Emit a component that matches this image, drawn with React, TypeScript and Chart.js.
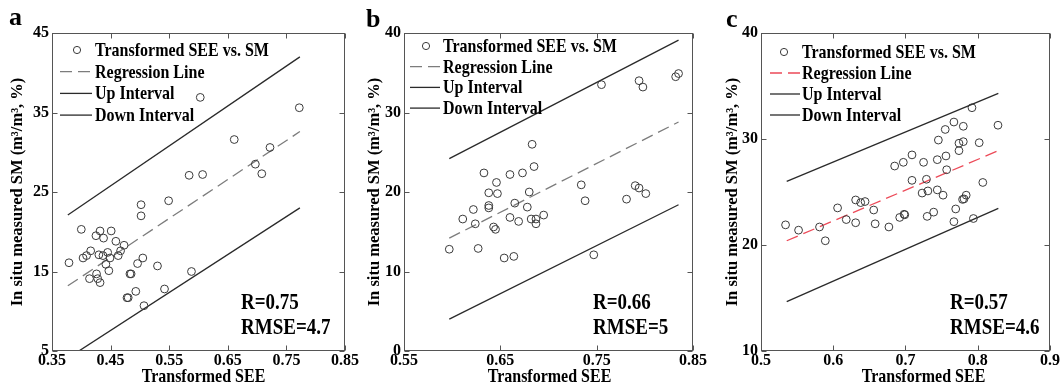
import React, { useEffect, useRef } from 'react';
import { Chart, registerables } from 'chart.js';

Chart.register(...registerables);

const FONT = '"Liberation Serif", "Times New Roman", serif';

// ---------- shared text ----------
const legendLabels = ['Transformed SEE vs. SM', 'Regression Line', 'Up Interval', 'Down Interval'];
const xTitle = 'Transformed SEE';
const yTitle = 'In situ measured SM (m\u00B3/m\u00B3, %)';

// ---------- panel a ----------
const aSeeX = [0.379, 0.400, 0.403, 0.409, 0.416, 0.414, 0.426, 0.428, 0.432, 0.425, 0.432, 0.430, 0.438, 0.437, 0.442, 0.445, 0.447, 0.451, 0.449, 0.459, 0.463, 0.467, 0.473, 0.478, 0.480, 0.483, 0.485, 0.493, 0.496, 0.502, 0.502, 0.505, 0.507, 0.530, 0.542, 0.549, 0.584, 0.588, 0.603, 0.607, 0.661, 0.697, 0.708, 0.722, 0.772];
const aSmY = [16.1, 20.3, 16.7, 17.0, 17.6, 14.1, 14.7, 14.1, 13.6, 19.5, 20.1, 17.1, 19.2, 17.0, 15.9, 17.4, 15.1, 20.1, 16.7, 18.8, 17.0, 17.6, 18.3, 11.7, 11.7, 14.7, 14.7, 12.5, 16.0, 23.4, 22.0, 16.7, 10.7, 15.7, 12.8, 23.9, 27.1, 15.0, 36.9, 27.2, 31.6, 28.5, 27.3, 30.6, 35.6];
const aLineX = [0.377, 0.773];
const aRegY = [13.2, 32.6];
const aUpY = [22.1, 42.0];
const aDownY = [4.1, 23.0];
const aXTicks = [0.35, 0.45, 0.55, 0.65, 0.75, 0.85];
const aXTickLabels = ['0.35', '0.45', '0.55', '0.65', '0.75', '0.85'];
const aYTicks = [5, 15, 25, 35, 45];
const aStats = ['R=0.75', 'RMSE=4.7'];

// ---------- panel b ----------
const bSeeX = [0.597, 0.611, 0.622, 0.624, 0.627, 0.633, 0.638, 0.638, 0.638, 0.646, 0.647, 0.643, 0.645, 0.654, 0.660, 0.660, 0.664, 0.665, 0.669, 0.673, 0.678, 0.680, 0.683, 0.682, 0.685, 0.687, 0.687, 0.695, 0.734, 0.738, 0.747, 0.755, 0.781, 0.790, 0.794, 0.801, 0.794, 0.798, 0.832, 0.835];
const bSmY = [12.8, 16.6, 17.8, 16.0, 12.9, 22.4, 19.9, 18.3, 18.0, 21.2, 19.8, 15.6, 15.3, 11.7, 22.2, 16.8, 11.9, 18.6, 16.3, 22.4, 18.1, 20.0, 26.0, 16.6, 23.2, 16.6, 16.0, 17.1, 20.9, 18.9, 12.1, 33.5, 19.1, 20.8, 20.5, 19.8, 34.0, 33.2, 34.5, 34.9];
const bLineX = [0.597, 0.835];
const bRegY = [14.2, 28.8];
const bUpY = [24.2, 39.1];
const bDownY = [4.0, 18.4];
const bXTicks = [0.55, 0.65, 0.75, 0.85];
const bXTickLabels = ['0.55', '0.65', '0.75', '0.85'];
const bYTicks = [0, 10, 20, 30, 40];
const bStats = ['R=0.66', 'RMSE=5'];

// ---------- panel c ----------
const cSeeX = [0.534, 0.552, 0.581, 0.589, 0.606, 0.618, 0.631, 0.631, 0.638, 0.644, 0.656, 0.658, 0.677, 0.685, 0.692, 0.698, 0.699, 0.697, 0.709, 0.709, 0.723, 0.731, 0.725, 0.729, 0.730, 0.739, 0.744, 0.744, 0.7455, 0.752, 0.755, 0.767, 0.757, 0.756, 0.767, 0.7695, 0.774, 0.774, 0.780, 0.780, 0.779, 0.781, 0.784, 0.792, 0.794, 0.802, 0.807, 0.828];
const cSmY = [21.9, 21.4, 21.7, 20.4, 23.5, 22.4, 24.25, 22.1, 24.0, 24.1, 23.3, 22.0, 21.7, 27.45, 22.6, 22.9, 22.85, 27.8, 28.5, 26.1, 24.9, 25.1, 27.8, 26.2, 22.7, 23.1, 28.05, 25.2, 29.9, 24.7, 30.9, 31.6, 27.1, 28.4, 22.2, 23.4, 28.9, 29.6, 29.75, 31.2, 24.3, 24.35, 24.7, 32.95, 22.5, 29.65, 25.9, 31.3];
const cLineX = [0.5356, 0.8285];
const cRegY = [20.4, 28.9];
const cUpY = [26.0, 34.3];
const cDownY = [14.65, 23.45];
const cXTicks = [0.5, 0.6, 0.7, 0.8, 0.9];
const cXTickLabels = ['0.5', '0.6', '0.7', '0.8', '0.9'];
const cYTicks = [10, 20, 30, 40];
const cStats = ['R=0.57', 'RMSE=4.6'];

// ---------- plugins ----------
const STRETCH = 1.2; // the reference's lettering is vertically elongated

function tallText(ctx: CanvasRenderingContext2D, s: string, x: number, y: number) {
  ctx.save();
  ctx.translate(x, y);
  ctx.scale(1, STRETCH);
  ctx.fillText(s, 0, 0);
  ctx.restore();
}

const framePlugin = {
  id: 'matFrame',
  afterDraw(chart: any) {
    const { ctx, chartArea: a, scales } = chart;
    ctx.save();
    ctx.strokeStyle = '#555';
    ctx.lineWidth = 1;
    const L = Math.round(a.left) + 0.5, R = Math.round(a.right) - 0.5;
    const T = Math.round(a.top) + 0.5, B = Math.round(a.bottom) - 0.5;
    ctx.strokeRect(L, T, R - L, B - T);
    const tl = 5;
    ctx.beginPath();
    scales.x.ticks.forEach((t: any) => {
      const px = Math.round(scales.x.getPixelForValue(t.value)) + 0.5;
      ctx.moveTo(px, B); ctx.lineTo(px, B - tl);
      ctx.moveTo(px, T); ctx.lineTo(px, T + tl);
    });
    scales.y.ticks.forEach((t: any) => {
      const py = Math.round(scales.y.getPixelForValue(t.value)) + 0.5;
      ctx.moveTo(L, py); ctx.lineTo(L + tl, py);
      ctx.moveTo(R, py); ctx.lineTo(R - tl, py);
    });
    ctx.stroke();
    ctx.restore();
  },
};

const legendPlugin = {
  id: 'matLegend',
  afterDatasetsDraw(chart: any, _args: any, o: any) {
    const { ctx, chartArea: a } = chart;
    ctx.save();
    ctx.font = `bold 16px ${FONT}`;
    ctx.textBaseline = 'middle';
    ctx.textAlign = 'left';
    chart.data.datasets.forEach((ds: any, i: number) => {
      const y = a.top + o.rowY0 + i * o.rowGap;
      if (ds.showLine === false) {
        ctx.beginPath();
        ctx.strokeStyle = ds.pointBorderColor;
        ctx.lineWidth = 1;
        ctx.arc(a.left + o.markerX, y, 3.6, 0, Math.PI * 2);
        ctx.stroke();
      } else {
        ctx.beginPath();
        ctx.strokeStyle = ds.borderColor;
        ctx.lineWidth = ds.borderWidth;
        ctx.setLineDash(ds.borderDash || []);
        ctx.moveTo(a.left + o.lineX0, y);
        ctx.lineTo(a.left + o.lineX1, y);
        ctx.stroke();
        ctx.setLineDash([]);
      }
      ctx.fillStyle = '#000';
      tallText(ctx, ds.label, a.left + o.textX, y + 1);
    });
    ctx.restore();
  },
};

const textPlugin = {
  id: 'matText',
  afterDraw(chart: any, _args: any, o: any) {
    const { ctx, chartArea: a } = chart;
    ctx.save();
    ctx.fillStyle = '#000';
    // panel letter
    ctx.font = `bold 26px ${FONT}`;
    ctx.textAlign = 'left';
    ctx.textBaseline = 'alphabetic';
    ctx.fillText(o.letter, o.letterX, o.letterY);
    // statistics
    ctx.font = `bold 19px ${FONT}`;
    ctx.textBaseline = 'middle';
    o.stats.forEach((s: string, i: number) => {
      tallText(ctx, s, a.left + o.statsX, a.bottom - o.statsY0 + i * o.statsGap);
    });
    // x axis title
    ctx.font = `bold 16px ${FONT}`;
    ctx.textAlign = 'center';
    tallText(ctx, o.xTitle, (a.left + a.right) / 2 + o.xTitleDx, o.xTitleY);
    ctx.restore();
  },
};

type PanelCfg = {
  left: number; width: number; areaLeft: number; areaRight: number;
  xMin: number; xMax: number; yMin: number; yMax: number;
  seeX: number[]; smY: number[]; lineX: number[]; regY: number[]; upY: number[]; downY: number[];
  xTicks: number[]; xTickLabels: string[]; yTicks: number[]; stats: string[];
  regColor: string; yTitlePad: number; legend: any; letter: string; letterX: number; letterY: number;
  xTitleDx: number;
};

const panels: PanelCfg[] = [
  {
    left: 0, width: 360, areaLeft: 52, areaRight: 345,
    xMin: 0.35, xMax: 0.85, yMin: 5, yMax: 45,
    seeX: aSeeX, smY: aSmY, lineX: aLineX, regY: aRegY, upY: aUpY, downY: aDownY,
    xTicks: aXTicks, xTickLabels: aXTickLabels, yTicks: aYTicks, stats: aStats,
    regColor: '#7c7c7c', yTitlePad: 8,
    legend: { lineX0: 8, lineX1: 40, markerX: 25, textX: 43, rowY0: 17, rowGap: 21.7 },
    letter: 'a', letterX: 9, letterY: 25, xTitleDx: 5,
  },
  {
    left: 360, width: 350, areaLeft: 44, areaRight: 333,
    xMin: 0.55, xMax: 0.85, yMin: 0, yMax: 40,
    seeX: bSeeX, smY: bSmY, lineX: bLineX, regY: bRegY, upY: bUpY, downY: bDownY,
    xTicks: bXTicks, xTickLabels: bXTickLabels, yTicks: bYTicks, stats: bStats,
    regColor: '#7c7c7c', yTitlePad: 5,
    legend: { lineX0: 6, lineX1: 36, markerX: 22, textX: 39, rowY0: 13, rowGap: 20.7 },
    letter: 'b', letterX: 6, letterY: 27, xTitleDx: 1,
  },
  {
    left: 710, width: 351, areaLeft: 51, areaRight: 340,
    xMin: 0.5, xMax: 0.9, yMin: 10, yMax: 40,
    seeX: cSeeX, smY: cSmY, lineX: cLineX, regY: cRegY, upY: cUpY, downY: cDownY,
    xTicks: cXTicks, xTickLabels: cXTickLabels, yTicks: cYTicks, stats: cStats,
    regColor: '#ec4a58', yTitlePad: 13,
    legend: { lineX0: 9, lineX1: 39, markerX: 23, textX: 41, rowY0: 19, rowGap: 21 },
    letter: 'c', letterX: 16, letterY: 27, xTitleDx: 18,
  },
];

const H = 386;
const AREA_TOP = 33;
const AREA_BOTTOM = 351;

function buildConfig(p: PanelCfg): any {
  const pts = (xs: number[], ys: number[]) => xs.map((x, i) => ({ x, y: ys[i] }));
  const tickFont = { family: FONT, size: 16, weight: 'bold', lineHeight: 1 };
  return {
    type: 'scatter',
    data: {
      datasets: [
        {
          label: legendLabels[0], data: pts(p.seeX, p.smY), showLine: false,
          pointRadius: 3.9, pointBorderWidth: 1, pointBorderColor: '#3a3a3a',
          pointBackgroundColor: 'rgba(0,0,0,0)', pointHoverRadius: 3.9,
        },
        {
          label: legendLabels[1], data: pts(p.lineX, p.regY), showLine: true,
          borderColor: p.regColor, borderWidth: 1.3, borderDash: [12, 6], pointRadius: 0,
        },
        {
          label: legendLabels[2], data: pts(p.lineX, p.upY), showLine: true,
          borderColor: '#2a2a2a', borderWidth: 1.3, pointRadius: 0,
        },
        {
          label: legendLabels[3], data: pts(p.lineX, p.downY), showLine: true,
          borderColor: '#2a2a2a', borderWidth: 1.3, pointRadius: 0,
        },
      ],
    },
    options: {
      responsive: false,
      animation: false,
      devicePixelRatio: 1,
      events: [],
      layout: { padding: { left: 0, top: AREA_TOP, right: p.width - p.areaRight, bottom: 0 } },
      plugins: {
        legend: { display: false },
        tooltip: { enabled: false },
        matLegend: p.legend,
        matText: {
          letter: p.letter, letterX: p.letterX, letterY: p.letterY,
          stats: p.stats, statsX: 189, statsY0: 48, statsGap: 25,
          xTitle, xTitleDx: p.xTitleDx, xTitleY: 377,
        },
      },
      scales: {
        x: {
          type: 'linear', min: p.xMin, max: p.xMax,
          afterBuildTicks: (s: any) => { s.ticks = p.xTicks.map((v) => ({ value: v })); },
          afterFit: (s: any) => { s.height = H - AREA_BOTTOM; s.paddingLeft = 0; s.paddingRight = 0; },
          grid: { display: false, drawTicks: false },
          border: { display: false },
          ticks: {
            padding: 2, color: '#000', font: tickFont, autoSkip: false, maxRotation: 0,
            callback: (_v: any, i: number) => p.xTickLabels[i],
          },
        },
        y: {
          type: 'linear', min: p.yMin, max: p.yMax,
          afterBuildTicks: (s: any) => { s.ticks = p.yTicks.map((v) => ({ value: v })); },
          afterFit: (s: any) => { s.width = p.areaLeft; s.paddingTop = 0; s.paddingBottom = 0; },
          grid: { display: false, drawTicks: false },
          border: { display: false },
          ticks: {
            padding: 3, color: '#000', font: tickFont, autoSkip: false,
            callback: (v: any) => String(v),
          },
          title: {
            display: true, text: yTitle, color: '#000',
            font: { family: FONT, size: 16.5, weight: 'bold', lineHeight: 1.2 },
            padding: { top: p.yTitlePad, bottom: 0 },
          },
        },
      },
    },
    plugins: [framePlugin, legendPlugin, textPlugin],
  };
}

function Panel({ p }: { p: PanelCfg }) {
  const ref = useRef<HTMLCanvasElement>(null);
  useEffect(() => {
    const chart = new Chart(ref.current as HTMLCanvasElement, buildConfig(p));
    return () => chart.destroy();
  }, [p]);
  return (
    <canvas
      ref={ref}
      width={p.width}
      height={H}
      style={{ position: 'absolute', left: p.left, top: 0, width: p.width, height: H }}
    />
  );
}

export default function App() {
  return (
    <div style={{ position: 'absolute', left: 0, top: 0, width: 1061, height: H, background: '#fff', overflow: 'hidden' }}>
      {panels.map((p) => (
        <Panel key={p.letter} p={p} />
      ))}
    </div>
  );
}
